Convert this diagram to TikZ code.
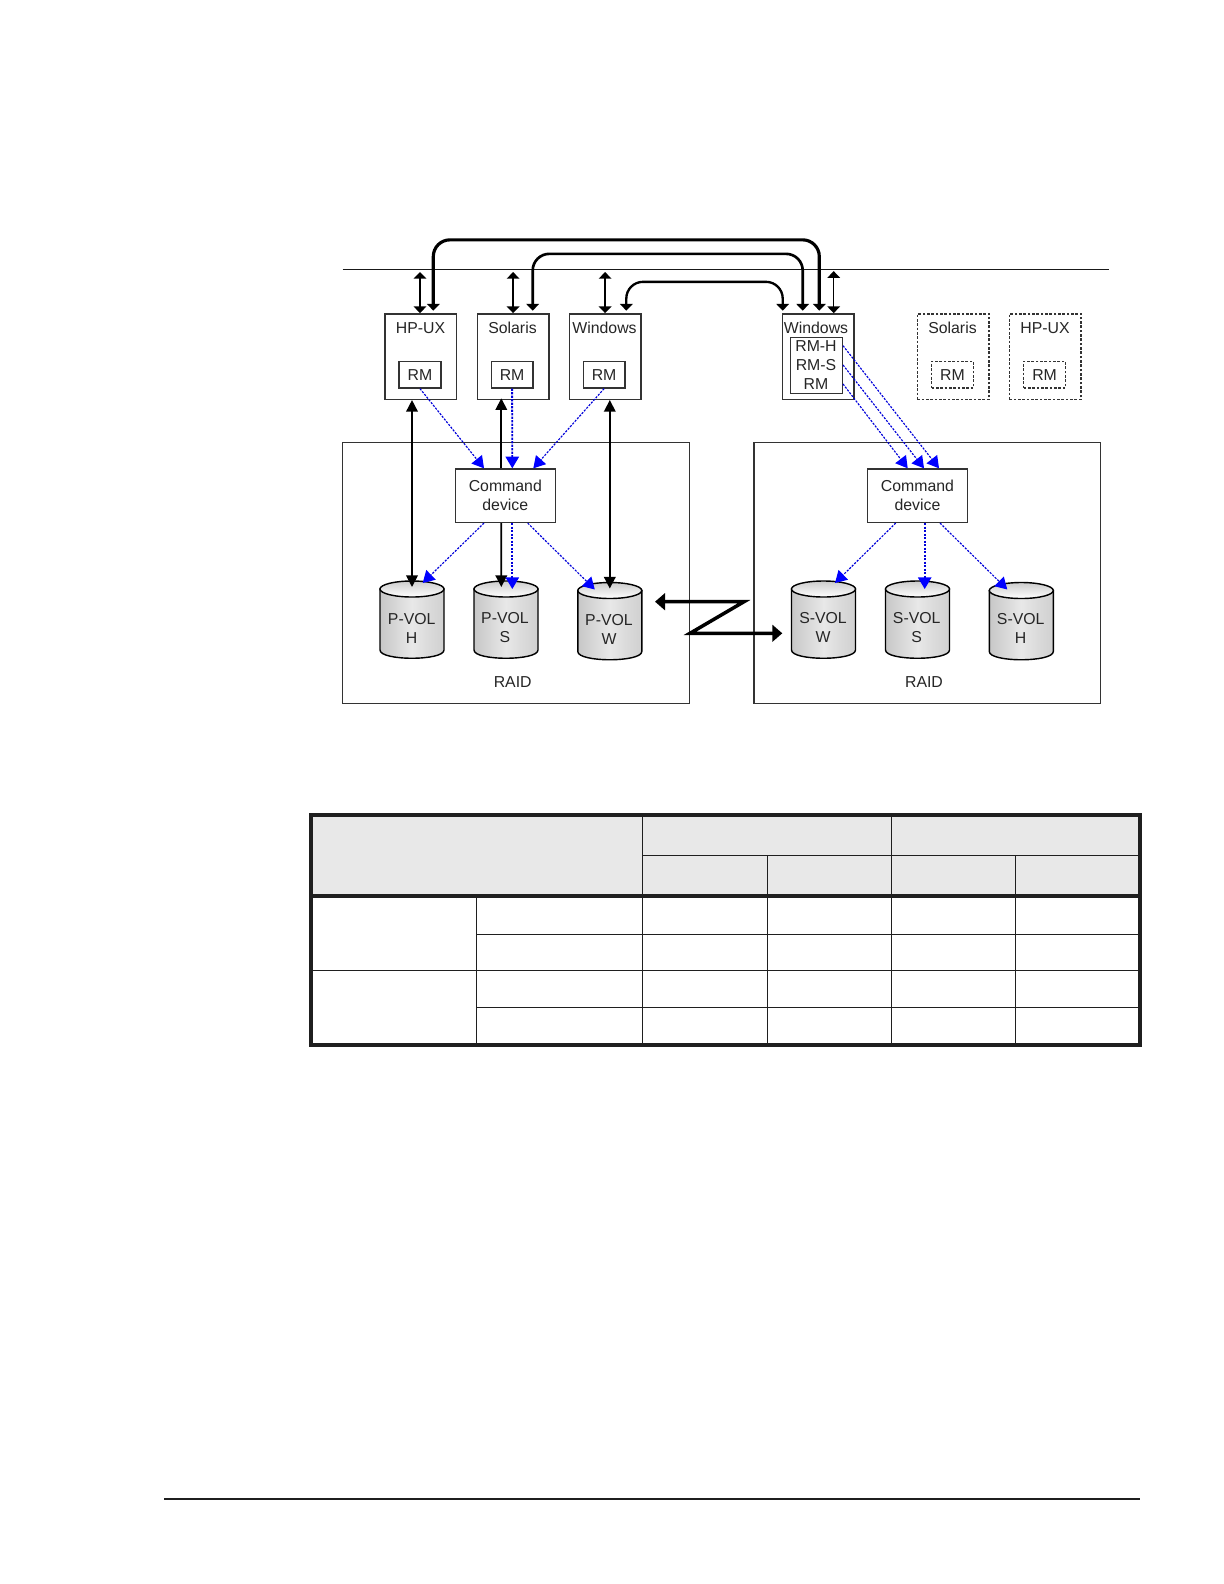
\documentclass[tikz,border=0pt]{standalone}
\usepackage{fontspec}
\setmainfont{Liberation Sans}
\usetikzlibrary{
  arrows.meta
}
\pgfdeclarehorizontalshading{voltone}{100bp}{
  color(0bp)=(black!32);
  color(25bp)=(black!22);
  color(50bp)=(black!9);
  color(62bp)=(black!14);
  color(80bp)=(black!20);
  color(100bp)=(black!34)
}
\tikzset{
  x=.6pt,
  y=-.6pt,
  diagtext/.style={
    font=\fontsize{9.5}{11.4}\selectfont,
    text=black!85,
    align=center,
    inner sep=0pt
  },
  plainbox/.style={
    draw=black!80,
    line width=.85pt,
    fill=white,
    diagtext,
    minimum width=43pt,
    minimum height=51.3pt
  },
  hostbox/.style={plainbox},
  hostdash/.style={plainbox, dash pattern=on 1.6pt off 1pt, line width=.9pt},
  rmbox/.style={plainbox, minimum width=25pt, minimum height=16pt},
  rmdash/.style={rmbox, dash pattern=on 1.6pt off 1pt, line width=.7pt},
  cmdbox/.style={plainbox, minimum width=60pt, minimum height=32pt},
  raidbox/.style={plainbox, minimum width=208pt, minimum height=156.6pt},
  tablegrid/.style={draw=black!88, line width=.75pt},
  tablethick/.style={draw=black!88, line width=2.4pt},
  busarrow/.style={
    line width=.9pt,
    {Triangle[length=4pt,width=7.5pt]}-{Triangle[length=4pt,width=7.5pt]},
    shorten >=1.5pt
  },
  hostlink/.style={
    line width=#1,
    rounded corners=10pt,
    {Triangle[length=4pt,width=7.5pt]}-{Triangle[length=4pt,width=7.5pt]},
    shorten <=1.5pt,
    shorten >=1.5pt
  },
  pairarrow/.style={
    line width=1pt,
    {Triangle[length=7pt,width=7pt]}-{Triangle[length=7pt,width=7pt]}
  },
  singlearrow/.style={
    line width=1pt,
    -{Triangle[length=7pt,width=7pt]}
  },
  cmdarrow/.style={
    draw=blue!85!black,
    line width=.7pt,
    dash pattern=on 1.3pt off .8pt,
    -{Triangle[length=7pt,width=8pt,color=blue,fill=blue]}
  },
  remotearrow/.style={
    line width=2.1pt,
    {Triangle[length=6pt,width=10pt]}-{Triangle[length=6pt,width=10pt]},
    line join=miter
  },
  volume/.pic={
    \path[draw=black, line width=.85pt, shading=voltone, shading angle=0]
      (-32,0) -- (-32,61) .. controls (-32,72) and (32,72) .. (32,61) -- (32,0) -- cycle;
    \path[draw=black, line width=.85pt, top color=black!20, bottom color=white]
      (0,0) circle[x radius=32, y radius=8];
    \coordinate (-top) at (0,-2);
  }
}
\begin{document}
\begin{tikzpicture}
  \useasboundingbox (0,0) rectangle (1224,1584);

  % raid frames
  \node[raidbox] (raidp) at (516,572.8) {};
  \node[raidbox] (raids) at (927.3,572.8) {};

  % bus
  \coordinate (busl) at (342.7,269.5);
  \coordinate (busr) at (1109,269.5);
  \draw[line width=1.1pt, black!90] (busl) -- (busr);

  % hosts
  \node[hostbox] (hpux) at (420.8,356.6) {};
  \node[hostbox] (solaris) at (513.1,356.6) {};
  \node[hostbox] (windows) at (605.1,356.6) {};
  \node[hostbox] (winr) at (818.3,356.6) {};
  \node[hostdash] (solarisb) at (953.3,356.6) {};
  \node[hostdash] (hpuxb) at (1045.3,356.6) {};

  \node[diagtext] (hpuxt) at (420.5,328) {HP-UX};
  \node[diagtext] (solarist) at (512.5,328) {Solaris};
  \node[diagtext] (windowst) at (604.5,328) {Windows};
  \node[diagtext] (winrt) at (816,328) {Windows};
  \node[diagtext] (solarisbt) at (952.5,328) {Solaris};
  \node[diagtext] (hpuxbt) at (1045,328) {HP-UX};

  \node[rmbox] (rmh) at (420,374.6) {RM};
  \node[rmbox] (rms) at (512.1,374.6) {RM};
  \node[rmbox] (rmw) at (604.1,374.6) {RM};
  \node[rmdash] (rmsb) at (952.5,374.6) {RM};
  \node[rmdash] (rmhb) at (1044.6,374.6) {RM};
  \node[plainbox, minimum width=31pt, minimum height=33.8pt] (rmall) at (816.5,365.5) {};
  \node[diagtext] (rmallh) at (816,345.7) {RM-H};
  \node[diagtext] (rmalls) at (816,365) {RM-S};
  \node[diagtext] (rmallr) at (816,384) {RM};

  % command devices
  \node[cmdbox] (cmdp) at (505.3,495.7) {Command\\device};
  \node[cmdbox] (cmds) at (917.5,495.7) {Command\\device};

  % volumes
  \pic (pvolh) at (412,589) {volume};
  \pic (pvols) at (506,589) {volume};
  \pic (pvolw) at (609.8,590.5) {volume};
  \pic (svolw) at (823.5,589) {volume};
  \pic (svols) at (917.5,589) {volume};
  \pic (svolh) at (1021.3,590.5) {volume};

  \node[diagtext] (pvolht) at (411.7,628) {P-VOL\\H};
  \node[diagtext] (pvolst) at (505,628) {P-VOL\\S};
  \node[diagtext] (pvolwt) at (609,629) {P-VOL\\W};
  \node[diagtext] (svolwt) at (823,627.5) {S-VOL\\W};
  \node[diagtext] (svolst) at (916.7,627.5) {S-VOL\\S};
  \node[diagtext] (svolht) at (1020.7,628.5) {S-VOL\\H};

  \node[diagtext] (raidpt) at (512.7,682) {RAID};
  \node[diagtext] (raidst) at (924,682) {RAID};

  % host to bus
  \draw[busarrow] (hpux.north -| rmh) -- (busl -| rmh);
  \draw[busarrow] (solaris.north) -- (solaris.north |- busl);
  \draw[busarrow] (windows.north) -- (windows.north |- busl);
  \draw[busarrow] ([shift={(15.4,0)}]winr.north) -- ++(0,-44.5);

  % host to host
  \draw[hostlink=1.9pt] ([shift={(12.5,0)}]hpux.north) -- ++(0,-73.3) -| ([shift={(1,0)}]winr.north);
  \draw[hostlink=1.6pt] ([shift={(19.6,0)}]solaris.north) -- ++(0,-59.3) -| ([shift={(-15.6,0)}]winr.north);
  \draw[hostlink=1.4pt] ([shift={(21.2,0)}]windows.north) -- ++(0,-31.3) -| ([shift={(-35.6,0)}]winr.north);

  % host to volume
  \draw[pairarrow] (pvolh-top |- hpux.south) -- (pvolh-top);
  \draw[pairarrow] (pvolw-top |- windows.south) -- (pvolw-top);
  \draw[singlearrow] ([shift={(-4,0)}]cmdp.north) -- ++(0,-70);
  \draw[singlearrow] ([shift={(-4,0)}]cmdp.south) -- ([shift={(-4.7,0)}]pvols-top);

  % rm to command device
  \draw[cmdarrow] (rmh.south) -- ([shift={(-21.3,0)}]cmdp.north);
  \draw[cmdarrow, line width=1.1pt] (rms.south) -- ([shift={(7,0)}]cmdp.north);
  \draw[cmdarrow] (rmw.south) -- ([shift={(28,0)}]cmdp.north);
  \draw[cmdarrow] (rmall.east |- rmallh) -- ([shift={(21.5,0)}]cmds.north);
  \draw[cmdarrow] (rmall.east |- rmalls) -- ([shift={(6.5,0)}]cmds.north);
  \draw[cmdarrow] (rmall.east |- rmallr) -- ([shift={(-9.8,0)}]cmds.north);

  % command device to volume
  \draw[cmdarrow] ([shift={(-21.3,0)}]cmdp.south) -- ([shift={(10.7,-4)}]pvolh-top);
  \draw[cmdarrow, line width=1.1pt] ([shift={(7,0)}]cmdp.south) -- ([shift={(6.3,2)}]pvols-top);
  \draw[cmdarrow] ([shift={(22.4,0)}]cmdp.south) -- ([shift={(-15,1)}]pvolw-top);
  \draw[cmdarrow] ([shift={(-21.8,0)}]cmds.south) -- ([shift={(11.5,-4)}]svolw-top);
  \draw[cmdarrow, line width=1.1pt] ([shift={(7.2,0)}]cmds.south) -- ([shift={(7.2,2)}]svols-top);
  \draw[cmdarrow] ([shift={(22.5,0)}]cmds.south) -- ([shift={(-14,1)}]svolh-top);

  % remote copy
  \coordinate (zleft) at (655,601.7);
  \coordinate (zright) at (782.3,633.3);
  \draw[remotearrow] (zleft) -- (744,601.7) -- (690,633.3) -- (zright);

  % table
  \path[fill=black!9] (311,815) rectangle (1139.5,896);
  \draw[tablegrid] (642.3,815) -- (642.3,1045);
  \draw[tablegrid] (891.3,815) -- (891.3,1045);
  \draw[tablegrid] (642.3,855.3) -- (1139.5,855.3);
  \foreach \xv in {767.7,1015.3} {
    \draw[tablegrid] (\xv,855.3) -- (\xv,1045);
  }
  \draw[tablegrid] (476.3,896) -- (476.3,1045);
  \draw[tablegrid] (311,970.3) -- (1139.5,970.3);
  \foreach \yv in {934.3,1007.3} {
    \draw[tablegrid] (476.3,\yv) -- (1139.5,\yv);
  }
  \draw[tablethick] (311,896) -- (1139.5,896);
  \draw[tablethick] (311,815) rectangle (1139.5,1045);

  % page rule
  \draw[line width=1.2pt, black!88] (164,1499) -- (1140,1499);
\end{tikzpicture}
\end{document}
